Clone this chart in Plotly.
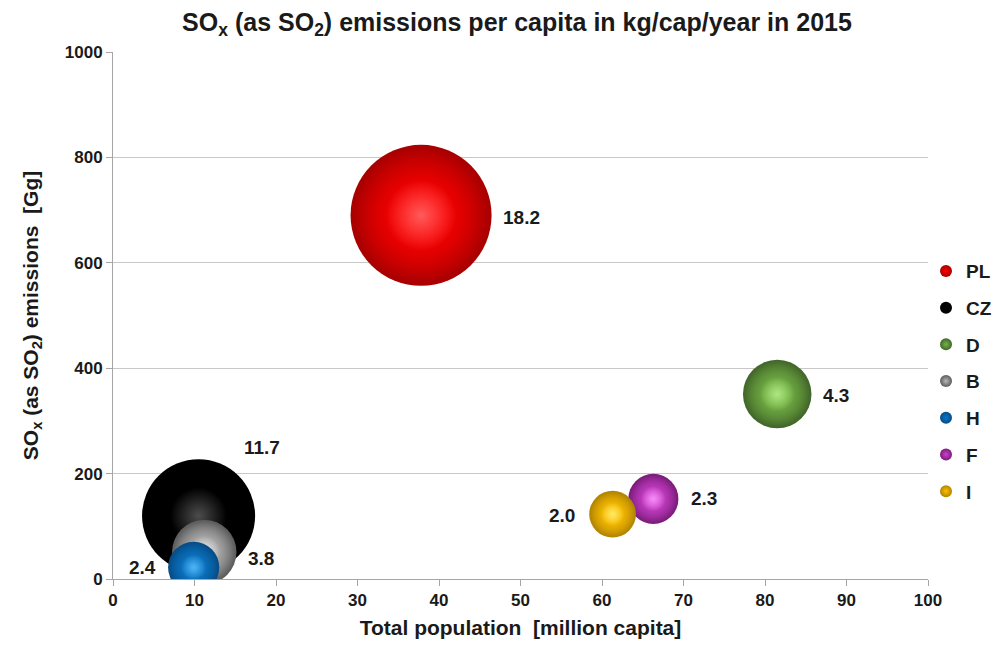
import plotly.graph_objects as go

# Country data: population (million), SOx emissions (Gg), per-capita emissions (kg/cap/year)
countries = ["PL", "CZ", "D", "B", "H", "F", "I"]
population = [37.8, 10.5, 81.5, 11.2, 9.9, 66.3, 61.3]
emissions = [690, 120, 351, 51, 22, 152, 123]
per_capita = [18.2, 11.7, 4.3, 3.8, 2.4, 2.3, 2.0]

x_ticks = list(range(0, 101, 10))
y_ticks = list(range(0, 1001, 200))

# Sphere shading per country: base colour, dark rim, highlight
base_colors = ["#ff0000", "#000000", "#74b444", "#b8b8b8", "#0a78c8", "#cc40cc", "#ffc000"]
rim_colors = ["#a80000", "#000000", "#42662a", "#5c5c5c", "#064c86", "#7a1c7a", "#b08400"]
light_colors = ["#ff6a6a", "#5a5a5a", "#b6f08a", "#f4f4f4", "#5cc0ff", "#ff9cff", "#fff27a"]

# Label offsets (px) from each bubble centre
label_dx = [100, 63, 59, 57, -51, 51, -51]
label_dy = [-2, 68, -1, -6, 0, 0, -1]

max_radius_px = 70.5
sizeref = max(per_capita) / 2 / max_radius_px ** 2

font_family = "Liberation Sans, Arial, sans-serif"
text_color = "#1a1a1a"

fig = go.Figure()


def hex_rgba(h, a):
    h = h.lstrip("#")
    r, g, b = int(h[0:2], 16), int(h[2:4], 16), int(h[4:6], 16)
    return f"rgba({r},{g},{b},{a})"


def sphere_layer(i, scale, edge, centre, **kw):
    return go.Scatter(
        x=[population[i]], y=[emissions[i]], mode="markers",
        legendgroup=countries[i],
        marker=dict(size=[per_capita[i] * scale], sizemode="area", sizeref=sizeref,
                    opacity=1, color=edge, line=dict(width=0),
                    gradient=dict(type="radial", color=centre)),
        hoverinfo="skip", **kw,
    )


for i, name in enumerate(countries):
    # outer sphere: dark rim fading to the base colour in the centre
    fig.add_trace(sphere_layer(i, 1.0, rim_colors[i], base_colors[i],
                               name=f"<b>{name}</b>", showlegend=True))
    # inner body keeps most of the sphere at its base colour
    fig.add_trace(sphere_layer(i, 0.88, hex_rgba(base_colors[i], 0),
                               hex_rgba(base_colors[i], 1), showlegend=False))
    # soft highlight
    fig.add_trace(sphere_layer(i, 0.25, hex_rgba(light_colors[i], 0),
                               hex_rgba(light_colors[i], 0.85), showlegend=False))
    fig.add_annotation(
        x=population[i], y=emissions[i], text=f"<b>{per_capita[i]:.1f}</b>",
        showarrow=False, xshift=label_dx[i], yshift=label_dy[i],
        font=dict(family=font_family, size=19, color=text_color),
    )

axis_font = dict(family=font_family, size=17, color=text_color)
title_font = dict(family=font_family, size=21, color=text_color)

fig.update_layout(
    width=1000, height=647,
    margin=dict(l=113, r=72, t=52, b=68, autoexpand=False),
    paper_bgcolor="white", plot_bgcolor="white",
    title=dict(
        text="<b>SO<sub>x</sub> (as SO<sub>2</sub>) emissions per capita in kg/cap/year in 2015</b>",
        x=0.517, xanchor="center", y=0.966, yanchor="middle",
        font=dict(family=font_family, size=25, color=text_color),
    ),
    xaxis=dict(
        range=[0, 100], tickvals=x_ticks, ticktext=[f"<b>{v}</b>" for v in x_ticks],
        showgrid=False, zeroline=False, showline=True, linecolor="#a6a6a6", linewidth=1,
        ticks="outside", ticklen=6, tickcolor="#a6a6a6", tickfont=axis_font,
        title=dict(text="<b>Total population  [million capita]</b>", standoff=10,
                   font=title_font),
        fixedrange=True,
    ),
    yaxis=dict(
        range=[0, 1000], tickvals=y_ticks, ticktext=[f"<b>{v}</b>" for v in y_ticks],
        showgrid=True, gridcolor="#c8c8c8", gridwidth=1, zeroline=False,
        showline=True, linecolor="#a6a6a6", linewidth=1,
        ticks="outside", ticklen=6, tickcolor="#a6a6a6", tickfont=axis_font,
        title=dict(text="<b>SO<sub>x</sub> (as SO<sub>2</sub>) emissions  [Gg]</b>", standoff=20,
                   font=title_font),
        fixedrange=True,
    ),
    legend=dict(
        xref="container", yref="container",
        x=0.926, xanchor="left", y=0.411, yanchor="middle",
        font=dict(family=font_family, size=19, color=text_color),
        itemsizing="constant", tracegroupgap=9, itemwidth=30,
        bgcolor="rgba(0,0,0,0)",
    ),
    showlegend=True,
)

fig.write_html("out.html")
